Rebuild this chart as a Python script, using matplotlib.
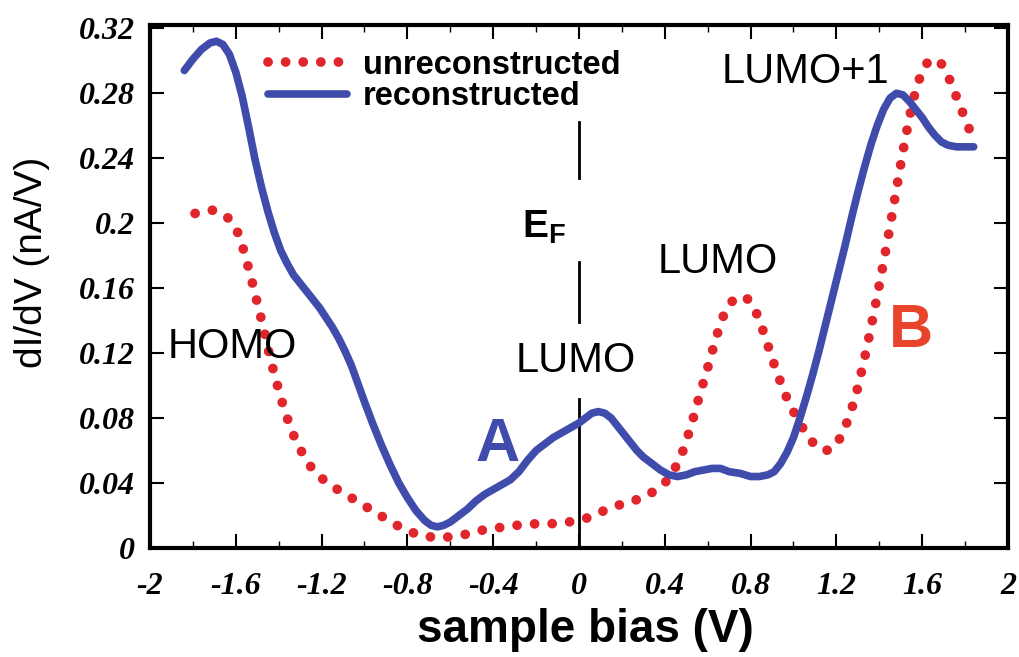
import matplotlib.pyplot as plt
import numpy as np
from matplotlib.ticker import FixedLocator, FormatStrFormatter

plt.rcParams['axes.unicode_minus'] = False
plt.rcParams['mathtext.fontset'] = 'custom'
plt.rcParams['mathtext.bf'] = 'Liberation Sans:bold'
plt.rcParams['mathtext.rm'] = 'Liberation Sans'

# dI/dV spectra (sample bias in V, dI/dV in nA/V)
bias_rec = [-1.84, -1.80, -1.76, -1.72, -1.69, -1.66, -1.63, -1.60, -1.57, -1.54,
            -1.51, -1.48, -1.45, -1.42, -1.39, -1.36, -1.33, -1.30, -1.27, -1.24,
            -1.21, -1.18, -1.15, -1.12, -1.09, -1.06, -1.03, -1.00, -0.96, -0.92,
            -0.88, -0.84, -0.80, -0.76, -0.72, -0.69, -0.66, -0.63, -0.60, -0.56,
            -0.52, -0.48, -0.44, -0.40, -0.36, -0.32, -0.28, -0.24, -0.20, -0.16,
            -0.12, -0.08, -0.04, 0.00, 0.03, 0.06, 0.09, 0.12, 0.15, 0.18,
            0.21, 0.24, 0.27, 0.30, 0.34, 0.38, 0.42, 0.46, 0.50, 0.54,
            0.58, 0.62, 0.66, 0.70, 0.75, 0.80, 0.84, 0.88, 0.91, 0.94,
            0.97, 1.00, 1.03, 1.06, 1.09, 1.12, 1.15, 1.18, 1.21, 1.24,
            1.27, 1.30, 1.33, 1.36, 1.39, 1.42, 1.45, 1.48, 1.51, 1.54,
            1.57, 1.60, 1.63, 1.66, 1.69, 1.72, 1.76, 1.80, 1.84]
didv_rec = [0.294, 0.301, 0.307, 0.311, 0.312, 0.310, 0.304, 0.293, 0.278, 0.259,
            0.239, 0.222, 0.207, 0.194, 0.183, 0.175, 0.168, 0.163, 0.158, 0.153,
            0.148, 0.142, 0.136, 0.129, 0.121, 0.112, 0.101, 0.090, 0.076, 0.063,
            0.051, 0.040, 0.031, 0.023, 0.017, 0.014, 0.013, 0.014, 0.016, 0.020,
            0.024, 0.029, 0.033, 0.036, 0.039, 0.042, 0.047, 0.054, 0.060, 0.064,
            0.068, 0.071, 0.074, 0.077, 0.080, 0.083, 0.084, 0.083, 0.080, 0.075,
            0.070, 0.065, 0.060, 0.056, 0.052, 0.048, 0.045, 0.044, 0.045, 0.047,
            0.048, 0.049, 0.049, 0.047, 0.046, 0.044, 0.044, 0.045, 0.047, 0.052,
            0.059, 0.068, 0.080, 0.093, 0.107, 0.122, 0.138, 0.154, 0.170, 0.186,
            0.203, 0.219, 0.234, 0.248, 0.260, 0.270, 0.277, 0.280, 0.279, 0.275,
            0.270, 0.265, 0.259, 0.254, 0.250, 0.248, 0.247, 0.247, 0.247]

bias_unrec = [-1.79, -1.75, -1.71, -1.68, -1.65, -1.62, -1.59, -1.56, -1.53, -1.50,
              -1.47, -1.44, -1.41, -1.38, -1.35, -1.32, -1.28, -1.24, -1.20, -1.15,
              -1.10, -1.05, -1.00, -0.95, -0.90, -0.85, -0.80, -0.75, -0.70, -0.65,
              -0.60, -0.55, -0.50, -0.45, -0.40, -0.35, -0.30, -0.25, -0.20, -0.15,
              -0.10, -0.05, 0.00, 0.05, 0.10, 0.15, 0.20, 0.25, 0.30, 0.35,
              0.40, 0.44, 0.48, 0.52, 0.56, 0.60, 0.64, 0.67, 0.70, 0.73,
              0.76, 0.79, 0.82, 0.85, 0.88, 0.91, 0.94, 0.97, 1.00, 1.03,
              1.06, 1.09, 1.12, 1.15, 1.18, 1.21, 1.24, 1.27, 1.30, 1.33,
              1.36, 1.39, 1.42, 1.45, 1.48, 1.51, 1.54, 1.57, 1.60, 1.63,
              1.66, 1.69, 1.72, 1.75, 1.78, 1.81, 1.84]
didv_unrec = [0.206, 0.207, 0.208, 0.207, 0.205, 0.201, 0.194, 0.182, 0.167, 0.151,
              0.135, 0.117, 0.102, 0.088, 0.076, 0.066, 0.056, 0.048, 0.043, 0.038,
              0.034, 0.030, 0.026, 0.022, 0.018, 0.014, 0.011, 0.008, 0.007, 0.006,
              0.007, 0.008, 0.009, 0.011, 0.012, 0.013, 0.014, 0.014, 0.015, 0.015,
              0.015, 0.016, 0.017, 0.019, 0.022, 0.025, 0.027, 0.029, 0.031, 0.035,
              0.040, 0.047, 0.058, 0.074, 0.093, 0.111, 0.130, 0.142, 0.150, 0.154,
              0.155, 0.153, 0.147, 0.137, 0.125, 0.113, 0.102, 0.092, 0.084, 0.077,
              0.070, 0.065, 0.061, 0.060, 0.061, 0.066, 0.074, 0.085, 0.099, 0.116,
              0.135, 0.155, 0.176, 0.198, 0.221, 0.244, 0.265, 0.282, 0.294, 0.300,
              0.301, 0.298, 0.291, 0.281, 0.271, 0.261, 0.251]

# broken marker line at the Fermi level
ef_segments = [(0.228, 0.262), (0.139, 0.176), (0.0, 0.092)]

xticks = [-2, -1.6, -1.2, -0.8, -0.4, 0, 0.4, 0.8, 1.2, 1.6, 2]
xminor = [-1.8, -1.4, -1.0, -0.6, -0.2, 0.2, 0.6, 1.0, 1.4, 1.8]
yticks = [0, 0.04, 0.08, 0.12, 0.16, 0.2, 0.24, 0.28, 0.32]

blue = '#3f4cab'
red = '#e0262c'

fig = plt.figure(figsize=(10.19, 6.57), dpi=100)
ax = fig.add_axes([0.1472, 0.1659, 0.842, 0.796])

ax.plot(bias_unrec, didv_unrec, color=red, lw=7, linestyle=(0, (0.01, 1.8)),
        dash_capstyle='round', label='unreconstructed', zorder=3)
ax.plot(bias_rec, didv_rec, color=blue, lw=5.5, solid_capstyle='round',
        solid_joinstyle='round', label='reconstructed', zorder=4)

for y0, y1 in ef_segments:
    ax.plot([0, 0], [y0, y1], color='black', lw=2, zorder=2)

ax.set_xlim(-2, 2)
ax.set_ylim(0, 0.322)

ax.xaxis.set_major_locator(FixedLocator(xticks))
ax.xaxis.set_minor_locator(FixedLocator(xminor))
ax.yaxis.set_major_locator(FixedLocator(yticks))
ax.xaxis.set_major_formatter(FormatStrFormatter('%g'))
ax.yaxis.set_major_formatter(FormatStrFormatter('%g'))
ax.tick_params(which='both', direction='in', top=True, right=True)
ax.tick_params(which='major', length=10, width=1.5)
ax.tick_params(which='minor', length=5, width=1)
ax.tick_params(axis='x', pad=17)
ax.tick_params(axis='y', pad=11)
for lab in ax.get_xticklabels() + ax.get_yticklabels():
    lab.set_family('Liberation Serif')
    lab.set_fontweight('bold')
    lab.set_fontstyle('italic')
    lab.set_fontsize(23)

for sp in ax.spines.values():
    sp.set_linewidth(3)

ax.set_xlabel('sample bias (V)', family='Liberation Sans', fontweight='bold', fontsize=33)
ax.xaxis.set_label_coords(0.507, -0.115)
ax.set_ylabel('dI/dV (nA/V)', family='Liberation Sans', fontsize=28)
ax.yaxis.set_label_coords(-0.117, 0.547)

ax.legend(loc='upper left', bbox_to_anchor=(0.119, 0.984), frameon=False,
          prop={'family': 'Liberation Sans', 'weight': 'bold', 'size': 23.5},
          handlelength=2.4, handletextpad=0.5, labelspacing=0.02, borderpad=0)

txt = dict(family='Liberation Sans', fontsize=30, ha='center', va='center')
ax.text(-1.618, 0.1237, 'HOMO', **txt)
ax.text(-0.014, 0.115, 'LUMO', **txt)
ax.text(0.648, 0.176, 'LUMO', **txt)
ax.text(1.058, 0.293, 'LUMO+1', **txt)
ax.text(-0.266, 0.1908, r'$\mathbf{E}_\mathbf{F}$', fontsize=28, ha='left', va='baseline')
ax.text(-0.378, 0.0634, 'A', family='Liberation Sans', fontweight='bold', fontsize=44,
        color=blue, ha='center', va='center')
ax.text(1.548, 0.1335, 'B', family='Liberation Sans', fontweight='bold', fontsize=44,
        color='#e8442c', ha='center', va='center')

fig.savefig('out.png', dpi=100)
